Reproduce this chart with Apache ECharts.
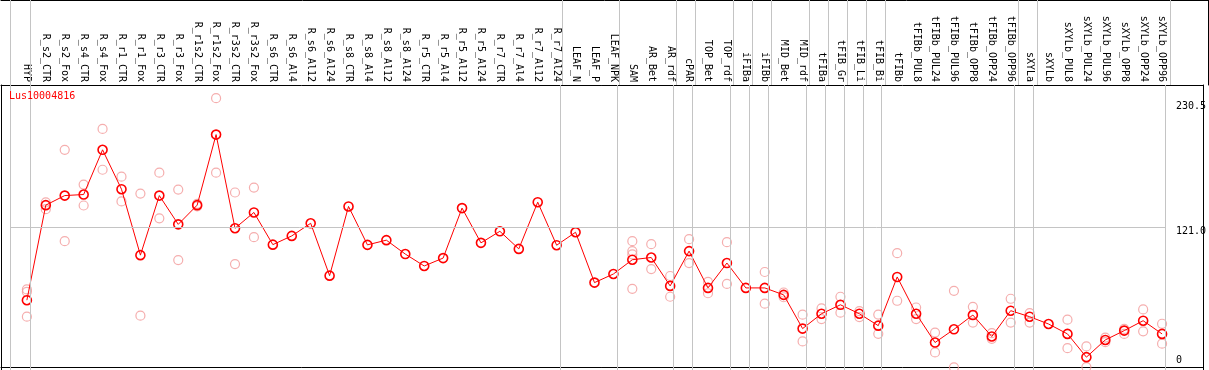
<!DOCTYPE html>
<html><head><meta charset="utf-8">
<script src="https://cdn.jsdelivr.net/npm/echarts@6/dist/echarts.min.js"></script>
<style>html,body{margin:0;padding:0;background:#fff;overflow:hidden}#c{width:1209px;height:370px}</style>
</head><body><div id="c"></div>
<script>
const chartTitle = 'Lus10004816';
const categories = ['HYP','R_s2_CTR','R_s2_Fox','R_s4_CTR','R_s4_Fox','R_r1_CTR','R_r1_Fox','R_r3_CTR','R_r3_Fox','R_r1s2_CTR','R_r1s2_Fox','R_r3s2_CTR','R_r3s2_Fox','R_s6_CTR','R_s6_Al4','R_s6_Al12','R_s6_Al24','R_s8_CTR','R_s8_Al4','R_s8_Al12','R_s8_Al24','R_r5_CTR','R_r5_Al4','R_r5_Al12','R_r5_Al24','R_r7_CTR','R_r7_Al4','R_r7_Al12','R_r7_Al24','LEAF_N','LEAF_P','LEAF_NPK','SAM','AR_Bet','AR_rdf','cPAR','TOP_Bet','TOP_rdf','iFIBa','iFIBb','MID_Bet','MID_rdf','tFIBa','tFIB_Gr','tFIB_Li','tFIB_Bi','tFIBb','tFIBb_PUL8','tFIBb_PUL24','tFIBb_PUL96','tFIBb_OPP8','tFIBb_OPP24','tFIBb_OPP96','sXYLa','sXYLb','sXYLb_PUL8','sXYLb_PUL24','sXYLb_PUL96','sXYLb_OPP8','sXYLb_OPP24','sXYLb_OPP96'];
const means = [59.2,139.8,147.9,148.8,186.7,153.3,97.4,147.9,123.5,139.8,
  199.6,120.2,133.6,106.3,113.7,124.4,80.0,138.7,106.1,110.1,
  98.3,88.2,94.9,137.3,107.8,117.6,102.7,142.3,105.8,116.8,
  74.1,81.4,93.5,95.4,71.3,100.8,69.6,90.7,69.6,69.6,
  63.7,35.1,47.7,55.3,47.7,37.6,78.9,47.7,23.3,34.5,
  46.6,28.4,50.3,45.2,39.0,30.6,10.9,25.5,33.4,41.8,30.6];
const rep1 = [68.3,142.1,186.7,157.2,204.4,163.9,149.6,167.3,153.0,140.9,
  230.5,150.5,154.7,null,null,null,null,null,null,null,
  null,null,null,null,null,null,null,null,null,null,
  null,null,109.2,106.7,79.7,110.9,74.7,108.4,null,83.1,
  65.7,46.9,52.2,62.1,49.9,47.0,99.1,53.0,31.7,67.1,
  53.6,31.2,60.4,48.2,null,42.7,20.0,27.5,34.8,51.4,39.2];
const rep2 = [45.2,136.4,109.2,139.5,169.8,142.9,46.1,128.6,93.2,138.7,
  167.3,89.8,112.6,null,null,null,null,null,null,null,
  null,null,null,null,null,null,null,null,null,null,
  null,null,68.8,85.6,62.1,90.7,65.1,73.0,null,56.2,
  61.7,24.2,43.2,48.6,44.9,30.7,58.7,43.2,14.9,2.3,
  40.2,26.4,40.2,40.2,null,18.5,2.5,23.6,30.6,32.8,22.3];
const rep3 = [66.3,null,null,null,null,null,null,null,null,null,
  null,null,null,null,null,null,null,null,null,null,
  null,null,null,null,null,null,null,null,null,null,
  null,null,100.8,null,null,null,null,null,null,null,
  null,null,null,null,null,null,null,null,null,null,
  null,null,null,null,null,null,null,null,null,null,null];
const rep4 = [null,null,null,null,null,null,null,null,null,null,
  null,null,null,null,null,null,null,null,null,null,
  null,null,null,null,null,null,null,null,null,null,
  null,null,98.0,null,null,null,null,null,null,null,
  null,null,null,null,null,null,null,null,null,null,
  null,null,null,null,null,null,null,null,null,null,null];
const yTickValues = [0, 121.0, 230.5];
const yTickLabels = ['0', '121.0', '230.5'];
const midLineValue = 121.0;
const separators = [-0.86,0.18,28.18,31.18,34.18,35.18,37.18,38.18,39.18,41.18,42.18,43.18,44.18,45.18,52.18,53.18,60.18];

const FONT = 'DejaVu Sans Mono';
const X_MIN = -26/19, X_MAX = X_MIN + 1207/19;
const Y_MAX = 287/1.1876;
const GRAY = '#c4c4c4';

const idx = categories.map((_, i) => i);
const meanData = means.map((v, i) => [i, v]);
const repData = [];
[rep1, rep2, rep3, rep4].forEach(r => r.forEach((v, i) => { if (v !== null) repData.push([i, v]); }));

const chart = echarts.init(document.getElementById('c'), null, {renderer: 'canvas'});
chart.setOption({
  animation: false,
  backgroundColor: '#fff',
  title: {text: chartTitle, left: 9, top: 91, padding: 0,
    textStyle: {color: '#ff0000', fontSize: 10, fontWeight: 'normal', fontFamily: FONT}},
  grid: [
    {left: 1, right: 1, top: 85, bottom: -2, containLabel: false},
    {left: 1, right: 1, top: 0, height: 85, containLabel: false}
  ],
  xAxis: [
    {type: 'value', gridIndex: 0, min: X_MIN, max: X_MAX, position: 'top',
      axisLine: {show: true, onZero: false, lineStyle: {color: '#000', width: 1}},
      axisTick: {show: false}, splitLine: {show: false},
      axisLabel: {customValues: idx, formatter: v => categories[Math.round(v)] || '',
        rotate: 90, margin: 3, fontSize: 10, fontFamily: FONT, color: '#000', hideOverlap: false}},
    {type: 'value', gridIndex: 0, min: X_MIN, max: X_MAX, position: 'bottom', offset: -3,
      axisLine: {show: true, onZero: false, lineStyle: {color: '#000', width: 1}},
      axisTick: {show: false}, splitLine: {show: false}, axisLabel: {show: false}},
    {type: 'value', gridIndex: 1, min: X_MIN, max: X_MAX, position: 'top',
      axisLine: {show: true, onZero: false, lineStyle: {color: '#000', width: 1}},
      axisTick: {show: false}, splitLine: {show: false}, axisLabel: {show: false}}
  ],
  yAxis: [
    {type: 'value', gridIndex: 0, min: 0, max: Y_MAX, position: 'left',
      axisLine: {show: true, onZero: false, lineStyle: {color: '#000'}},
      axisTick: {show: false}, splitLine: {show: false}, axisLabel: {show: false}},
    {type: 'value', gridIndex: 0, min: 0, max: Y_MAX, position: 'right',
      axisLine: {show: true, onZero: false, lineStyle: {color: '#000'}},
      axisTick: {show: false}, splitLine: {show: false}, axisLabel: {show: false}},
    {type: 'value', gridIndex: 0, min: 0, max: Y_MAX, position: 'right', offset: -30,
      axisLine: {show: false}, axisTick: {show: false}, splitLine: {show: false},
      axisLabel: {customValues: yTickValues, margin: 3, align: 'left', verticalAlign: 'middle',
        formatter: v => {
          const k = yTickValues.indexOf(v);
          const s = ['z', 'm', 't'][k];
          return '{' + s + '|' + yTickLabels[k] + '}';
        },
        rich: {
          z: {fontSize: 10, fontFamily: FONT, color: '#000', padding: [0, 0, 19, 0]},
          m: {fontSize: 10, fontFamily: FONT, color: '#000', padding: [9, 0, 0, 0]},
          t: {fontSize: 10, fontFamily: FONT, color: '#000', padding: [17, 0, 0, 0]}
        }}},
    {type: 'value', gridIndex: 1, min: 0, max: 1, position: 'right',
      axisLine: {show: true, onZero: false, lineStyle: {color: '#000'}},
      axisTick: {show: false}, splitLine: {show: false}, axisLabel: {show: false}}
  ],
  series: [
    {type: 'line', xAxisIndex: 2, yAxisIndex: 3, data: [], silent: true,
      markLine: {silent: true, symbol: 'none', animation: false, label: {show: false},
        lineStyle: {color: GRAY, width: 1, type: 'solid'},
        data: separators.map(s => ({xAxis: s}))}},
    {type: 'line', xAxisIndex: 0, yAxisIndex: 0, data: [], silent: true,
      markLine: {silent: true, symbol: 'none', animation: false, label: {show: false},
        lineStyle: {color: GRAY, width: 1, type: 'solid'},
        data: separators.map(s => ({xAxis: s})).concat([[
          {coord: [separators[0], midLineValue]},
          {coord: [separators[separators.length - 1], midLineValue]}
        ]])}},
    {type: 'scatter', xAxisIndex: 0, yAxisIndex: 0, data: repData, symbol: 'circle', symbolSize: 9,
      itemStyle: {color: 'rgba(0,0,0,0)', borderColor: '#f29a9a', borderWidth: 1.2}, z: 3},
    {type: 'line', xAxisIndex: 0, yAxisIndex: 0, data: meanData, symbol: 'circle', symbolSize: 9,
      showAllSymbol: true,
      lineStyle: {color: '#ff0000', width: 1},
      itemStyle: {color: 'rgba(0,0,0,0)', borderColor: '#ff0000', borderWidth: 1.6}, z: 4}
  ]
});
</script></body></html>
